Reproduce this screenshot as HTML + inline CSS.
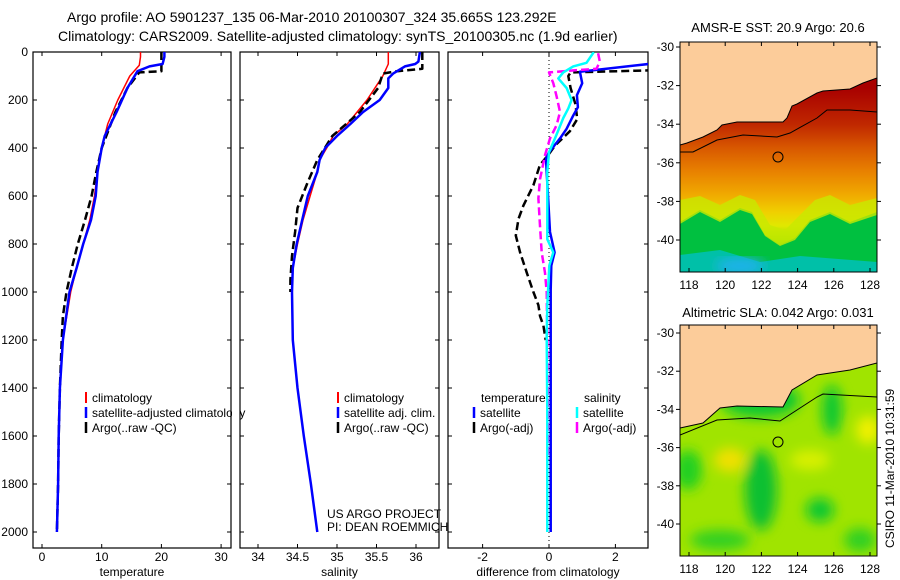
<!DOCTYPE html>
<html><head><meta charset="utf-8"><style>
body{margin:0;background:#fff;}
svg{display:block;font-family:"Liberation Sans",sans-serif;}
</style></head><body>
<svg id="s" width="900" height="580" viewBox="0 0 900 580">
<defs>
<linearGradient id="sstg" x1="0" y1="42" x2="0" y2="272" gradientUnits="userSpaceOnUse">
<stop offset="0.2" stop-color="#a80000"/><stop offset="0.36" stop-color="#c02800"/><stop offset="0.46" stop-color="#d85800"/><stop offset="0.56" stop-color="#e88000"/><stop offset="0.66" stop-color="#f0a800"/><stop offset="0.74" stop-color="#f0d000"/><stop offset="0.8" stop-color="#e0e800"/><stop offset="0.86" stop-color="#90e000"/><stop offset="0.9" stop-color="#00c040"/><stop offset="0.96" stop-color="#00c0a0"/><stop offset="1" stop-color="#00c8d0"/>
</linearGradient>
<filter id="bl"><feGaussianBlur stdDeviation="6"/></filter>
<clipPath id="c1"><rect x="33" y="52" width="198" height="496"/></clipPath>
<clipPath id="c2"><rect x="240" y="52" width="199" height="496"/></clipPath>
<clipPath id="c3"><rect x="448" y="52" width="200" height="496"/></clipPath>
<clipPath id="m1"><rect x="680" y="42" width="197" height="230"/></clipPath>
<clipPath id="m2"><rect x="680" y="325" width="197" height="231"/></clipPath>
</defs>
<text x="67" y="22" font-size="14">Argo profile: AO 5901237_135 06-Mar-2010 20100307_324 35.665S 123.292E</text>
<text x="58" y="41" font-size="14">Climatology: CARS2009. Satellite-adjusted climatology: synTS_20100305.nc (1.9d earlier)</text>

<g>
<g clip-path="url(#m1)">
<rect x="680" y="42" width="197" height="230" fill="url(#sstg)"/>
<path d="M680,222 L700,210 L720,220 L740,208 L752,212 L765,235 L780,245 L795,238 L810,220 L830,212 L850,222 L877,212 L877,272 L680,272Z" fill="#00c040"/>
<path d="M680,255 L720,250 L760,262 L800,256 L877,262 L877,272 L680,272Z" fill="#00c0a8"/>
<ellipse cx="740" cy="266" rx="25" ry="8" fill="#20b0f0" filter="url(#bl)"/>
<path d="M680,200 L700,196 L720,205 L740,195 L755,200 L770,225 L785,230 L800,215 L815,200 L830,195 L850,205 L877,198 L877,215 L850,224 L830,214 L810,222 L795,240 L780,246 L765,236 L752,214 L740,210 L720,222 L700,212 L680,224Z" fill="#c8e800" opacity="0.8"/>
<path d="M680,145 L687,143 L703,137 L717,130 L722,125 L737,122 L783,122 L787,118 L792,106 L797,104 L817,93 L823,91 L850,89 L863,83 L877,78 L877,42 L680,42Z" fill="#fccc9a" stroke="#000" stroke-width="1"/>
<polyline points="680,152 693,152 717,140 743,135 777,137 790,133 817,118 827,110 850,110 877,112" fill="none" stroke="#000" stroke-width="1"/>
<circle cx="778" cy="157" r="5" fill="none" stroke="#000" stroke-width="1"/>
</g>
<rect x="680" y="42" width="197" height="230" fill="none" stroke="#000"/>
<text x="778" y="32" font-size="13" text-anchor="middle">AMSR-E SST: 20.9 Argo: 20.6</text>
</g>

<g>
<g clip-path="url(#m2)">
<rect x="680" y="325" width="197" height="231" fill="#a0e400"/>
<g filter="url(#bl)">
<ellipse cx="760" cy="400" rx="40" ry="18" fill="#10c830"/>
<ellipse cx="761" cy="490" rx="16" ry="40" fill="#10c030"/>
<ellipse cx="832" cy="410" rx="10" ry="25" fill="#10c830"/>
<ellipse cx="820" cy="510" rx="14" ry="12" fill="#10c830"/>
<ellipse cx="688" cy="470" rx="14" ry="20" fill="#20d020"/>
<ellipse cx="730" cy="460" rx="16" ry="12" fill="#f0e000"/>
<ellipse cx="868" cy="430" rx="12" ry="14" fill="#f0f000"/>
<ellipse cx="720" cy="540" rx="30" ry="10" fill="#30d020"/>
<ellipse cx="860" cy="540" rx="16" ry="12" fill="#30d020"/>
<ellipse cx="810" cy="460" rx="20" ry="10" fill="#d8f000"/>
</g>
<path d="M680,428 L703,423 L720,408 L737,406 L783,407 L792,390 L817,375 L850,370 L877,363 L877,325 L680,325Z" fill="#fccc9a" stroke="#000" stroke-width="1"/>
<polyline points="680,435 717,420 750,418 780,421 817,397 823,394 877,397" fill="none" stroke="#000" stroke-width="1"/>
<circle cx="778" cy="442" r="5" fill="none" stroke="#000" stroke-width="1"/>
</g>
<rect x="680" y="325" width="197" height="231" fill="none" stroke="#000"/>
<text x="778" y="317" font-size="13" text-anchor="middle">Altimetric SLA: 0.042 Argo: 0.031</text>
</g>
<text transform="translate(894,548) rotate(-90)" font-size="12">CSIRO 11-Mar-2010 10:31:59</text>

<text x="327" y="518" font-size="12">US ARGO PROJECT</text>
<text x="327" y="531" font-size="12">PI: DEAN ROEMMICH</text>
</svg>
<script>
const tDepthClim = [0,20,55,100,200,300,400,500,600,700,800,900,1000,1200,1400,1600,1800,2000];
const tClim =      [16.5,16.5,16.3,14.7,12.7,11,10,9.3,8.8,8,6.9,5.8,4.8,3.5,3,2.8,2.7,2.5];
const tDepthSat = [0,20,50,60,80,150,250,350,400,500,600,700,800,900,1000,1200,1400,1600,1800,2000];
const tSat =      [20.5,20.5,20.2,18,16,14.3,12.5,10.5,10,9.3,9,8.2,6.9,5.8,4.6,3.5,3,2.8,2.7,2.5];
const tDepthArgo = [0,80,85,150,250,400,500,600,700,800,900,1000,1100,1200,1400,1600,1800,2000];
const tArgo =      [20,20,16.3,14.3,12.3,10,9.1,8.3,7.2,6,5,4.1,3.5,3.3,3,2.8,2.7,2.5];

const sDepthClim = [0,50,100,200,300,350,400,450,500,600,700,800,900,950,1000,1200,1400,1600,1800,2000];
const sClim =      [35.65,35.65,35.58,35.38,35.13,34.95,34.87,34.78,34.75,34.66,34.57,34.5,34.44,34.43,34.43,34.44,34.5,34.58,34.67,34.75];
const sDepthSat = [0,40,50,60,90,110,150,200,250,300,350,400,450,500,600,700,800,900,1000,1200,1400,1600,1800,2000];
const sSat =      [36.05,36.03,35.99,35.86,35.71,35.65,35.65,35.54,35.33,35.17,35.0,34.85,34.78,34.75,34.63,34.56,34.49,34.44,34.43,34.44,34.5,34.58,34.67,34.75];
const sDepthArgo = [0,70,80,90,150,250,350,450,550,650,750,850,950,1000];
const sArgo =      [36.08,36.08,35.76,35.58,35.52,35.29,34.94,34.75,34.62,34.5,34.47,34.43,34.41,34.41];

const dDepthTS = [40,50,82,130,180,230,265,320,360,418,445,500,750,835,890,990,1180,1400,1700,2000];
const dTSat =    [3.5,3,0.93,1.0,0.84,0.87,0.73,0.53,0.33,0,-0.09,-0.07,0.03,0.17,0.07,0.05,0.05,0.05,0.05,0.05];
const dDepthTA = [75,85,100,150,220,280,330,390,425,470,555,640,695,765,835,920,1000,1055,1100,1140,1200];
const dTArgo =   [3.5,0.65,0.58,0.65,0.8,0.85,0.63,0.18,0,-0.27,-0.47,-0.77,-0.92,-1.0,-0.87,-0.67,-0.47,-0.32,-0.27,-0.17,-0.1];
const dDepthSS = [0,10,45,60,85,110,150,200,235,275,360,418,500,780,835,890,1055,1180,1500,2000];
const dSSat =    [1.35,1.3,1.13,0.73,0.43,0.28,0.53,0.68,0.58,0.43,0.18,0,-0.05,-0.05,0.13,0.01,-0.05,-0.07,-0.05,-0.05];
const dDepthSA = [5,40,70,75,85,130,185,250,305,360,430,530,610,725,835,920,1000,1180,1400,1700];
const dSArgo =   [1.48,1.53,1.43,0.9,0,0.13,0.23,0.33,0.23,0.03,-0.12,-0.27,-0.32,-0.27,-0.22,-0.12,-0.07,-0.05,-0.04,-0.03];

const depthTicks = [0,200,400,600,800,1000,1200,1400,1600,1800,2000];
const tTicks = [0,10,20,30];
const sTicks = [34,34.5,35,35.5,36];
const sTickLabels = ["34","34.5","35","35.5","36"];
const dTicks = [-2,0,2];
const lonTicks = [118,120,122,124,126,128];
const latTicks = [-30,-32,-34,-36,-38,-40];

const NS = "http://www.w3.org/2000/svg";
const svg = document.getElementById('s');
const yD = d => 52 + d*0.24;
const xT = v => 42 + v*5.97;
const xS = v => 337 + (v-35)*79;
const xDf = v => 549 + v*33.2;

function mk(tag, attrs, parent){
  const e = document.createElementNS(NS, tag);
  for (const k in attrs) e.setAttribute(k, attrs[k]);
  (parent||svg).appendChild(e);
  return e;
}
function line(depths, vals, xf, color, w, dash, clip, name){
  const p = depths.map((d,i)=>xf(vals[i]).toFixed(1)+','+yD(d).toFixed(1)).join(' ');
  const e = mk('polyline',{points:p,fill:'none',stroke:color,'stroke-width':w,'clip-path':'url(#'+clip+')','stroke-linejoin':'round'});
  if (dash) e.setAttribute('stroke-dasharray', dash);
  
  
}
function panel(x0, x1, ticks, labels, xf, xlabel, pname){
  const g = mk('g',{});
  
  
  const fr = mk('rect',{x:x0,y:52,width:x1-x0,height:496,fill:'none',stroke:'#000','stroke-width':1.2},g);
  
  
  depthTicks.forEach(d=>{
    mk('line',{x1:x0,x2:x0+4,y1:yD(d),y2:yD(d),stroke:'#000'},g);
    mk('line',{x1:x1-4,x2:x1,y1:yD(d),y2:yD(d),stroke:'#000'},g);
  });
  ticks.forEach((t,i)=>{
    const x = xf(t);
    mk('line',{x1:x,x2:x,y1:548,y2:544,stroke:'#000'},g);
    mk('line',{x1:x,x2:x,y1:52,y2:56,stroke:'#000'},g);
    const tx = mk('text',{x:x,y:561,'font-size':12,'text-anchor':'middle'},g);
    tx.textContent = labels[i];
    
    
  });
  const xl = mk('text',{x:(x0+x1)/2,y:576,'font-size':12,'text-anchor':'middle'},g);
  xl.textContent = xlabel;
  
  
}
panel(33,231,tTicks,tTicks.map(String),xT,'temperature','temperature-panel');
panel(240,439,sTicks,sTickLabels,xS,'salinity','salinity-panel');
panel(448,648,dTicks,dTicks.map(String),xDf,'difference from climatology','difference-panel');
depthTicks.forEach(d=>{
  const t = mk('text',{x:28,y:yD(d)+4,'font-size':12,'text-anchor':'end'});
  t.textContent = String(d);
  
  
});
const z = mk('line',{x1:xDf(0),x2:xDf(0),y1:52,y2:548,stroke:'#000','stroke-dasharray':'1,3'});



line(tDepthClim,tClim,xT,'#ff0000',1.5,null,'c1','temperature-climatology-line');
line(tDepthArgo,tArgo,xT,'#000',2.5,'8,4','c1','temperature-argo-line');
line(tDepthSat,tSat,xT,'#0000ff',2.5,null,'c1','temperature-satellite-line');
line(sDepthClim,sClim,xS,'#ff0000',1.5,null,'c2','salinity-climatology-line');
line(sDepthArgo,sArgo,xS,'#000',2.5,'8,4','c2','salinity-argo-line');
line(sDepthSat,sSat,xS,'#0000ff',2.5,null,'c2','salinity-satellite-line');
line(dDepthTA,dTArgo,xDf,'#000',2.5,'8,4','c3','diff-temperature-argo-line');
line(dDepthTS,dTSat,xDf,'#0000ff',2.5,null,'c3','diff-temperature-satellite-line');
line(dDepthSA,dSArgo,xDf,'#ff00ff',2.5,'8,4','c3','diff-salinity-argo-line');
line(dDepthSS,dSSat,xDf,'#00ffff',2.5,null,'c3','diff-salinity-satellite-line');

function legend(x, y, color, text, w){
  const l = mk('line',{x1:x,x2:x,y1:y-10,y2:y+1,stroke:color,'stroke-width':w||2.5});
  
  
  const t = mk('text',{x:x+6,y:y,'font-size':12});
  t.textContent = text;
  
  
}
legend(86,402,'#ff0000','climatology',2);
legend(86,417,'#0000ff','satellite-adjusted climatology');
legend(86,432,'#000','Argo(..raw -QC)');
legend(338,402,'#ff0000','climatology',2);
legend(338,417,'#0000ff','satellite adj. clim.');
legend(338,432,'#000','Argo(..raw -QC)');
legend(474,417,'#0000ff','satellite');
legend(474,432,'#000','Argo(-adj)');
legend(577,417,'#00ffff','satellite');
legend(577,432,'#ff00ff','Argo(-adj)');
[['temperature',481],['salinity',584]].forEach(a=>{
  const t = mk('text',{x:a[1],y:402,'font-size':12});
  t.textContent = a[0];
  
  
});
const cv = mk('rect',{x:232,y:390,width:7,height:30,fill:'#fff'});



function mapAxes(top, bottom, latY, name){
  const g = mk('g',{});
  
  
  lonTicks.forEach(lo=>{
    const x = 689 + (lo-118)*18.1;
    mk('line',{x1:x,x2:x,y1:top,y2:top+4,stroke:'#000'},g);
    mk('line',{x1:x,x2:x,y1:bottom,y2:bottom-4,stroke:'#000'},g);
    const t = mk('text',{x:x,y:bottom+17,'font-size':12,'text-anchor':'middle'},g);
    t.textContent = String(lo);
    
    
  });
  latTicks.forEach(la=>{
    const y = latY(la);
    mk('line',{x1:676,x2:680,y1:y,y2:y,stroke:'#000'},g);
    mk('line',{x1:877,x2:881,y1:y,y2:y,stroke:'#000'},g);
    const t = mk('text',{x:674,y:y+4,'font-size':12,'text-anchor':'end'},g);
    t.textContent = String(la);
    
    
  });
}
mapAxes(42,272,la=>47+(-30-la)*19.3,'sst-map-axes');
mapAxes(325,556,la=>333+(-30-la)*19.1,'sla-map-axes');
</script>
</body></html>
